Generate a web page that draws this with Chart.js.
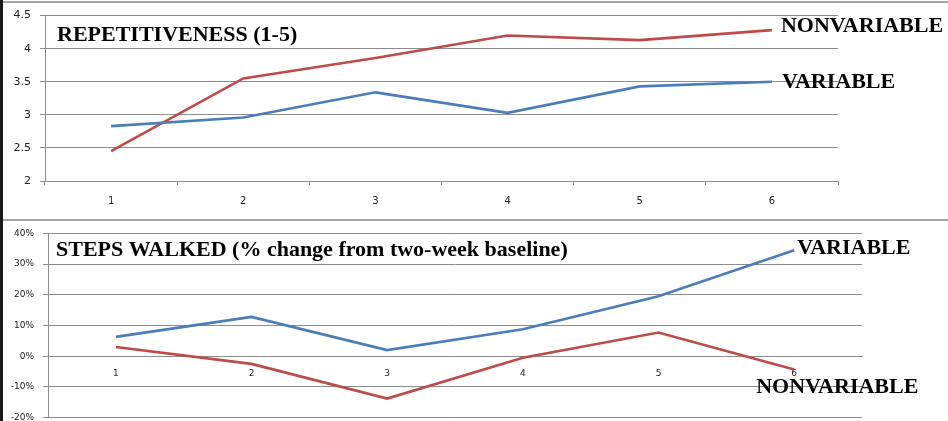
<!DOCTYPE html>
<html>
<head>
<meta charset="utf-8">
<script src="https://cdn.jsdelivr.net/npm/chart.js@4.4.1/dist/chart.umd.min.js"></script>
<style>
  html, body { margin: 0; padding: 0; background: #fff; }
  #wrap { position: relative; width: 948px; height: 421px; overflow: hidden; background: #fff; }
  #topChart { position: absolute; left: 0; top: 0; }
  #bottomChart { position: absolute; left: 0; top: 219px; }
  .rule { position: absolute; background: #a6a6a6; }
  #leftBar { position: absolute; left: 0; top: 0; width: 3px; height: 421px; background: #1a1a1a; }
</style>
</head>
<body>
<div id="wrap">
  <canvas id="topChart" width="948" height="219"></canvas>
  <canvas id="bottomChart" width="948" height="213"></canvas>
  <div class="rule" style="left:0;top:1px;width:948px;height:2px;"></div>
  <div class="rule" style="left:0;top:219px;width:948px;height:2px;"></div>
  <div id="leftBar"></div>
</div>
<script>
// Sessions on the x axis
const sessions = ['1', '2', '3', '4', '5', '6'];

// Repetitiveness rating (1-5 scale)
const repVariable    = [2.83, 2.96, 3.34, 3.03, 3.43, 3.50];
const repNonvariable = [2.45, 3.55, 3.86, 4.20, 4.13, 4.28];

// Steps walked, % change from two-week baseline
const stepsVariable    = [6.3, 12.8, 2.0, 8.8, 19.5, 34.5];
const stepsNonvariable = [3.0, -2.5, -13.8, -0.5, 7.7, -4.3];

const BLUE = '#4a7ebb';
const RED = '#be4b48';
const GRID = '#8c8c8c';
const TICK_FONT = { family: 'DejaVu Sans', size: 10 };
const LABEL_FONT = 'bold 22px "Liberation Serif", "Times New Roman", serif';

// Draws the panel heading and the series names next to their last points
const annotate = {
  id: 'annotate',
  afterDatasetsDraw(chart, args, opts) {
    const ctx = chart.ctx;
    const area = chart.chartArea;
    ctx.save();
    ctx.font = LABEL_FONT;
    ctx.fillStyle = '#000';
    ctx.textAlign = 'left';
    ctx.textBaseline = 'middle';
    ctx.fillText(opts.heading, area.left + opts.headingDx, area.top + opts.headingDy);
    opts.ends.forEach(e => {
      const meta = chart.getDatasetMeta(e.dataset);
      const pt = meta.data[meta.data.length - 1];
      ctx.fillText(e.text, pt.x + e.dx, pt.y + e.dy);
    });
    ctx.restore();
  }
};

function lineSet(label, data, color) {
  return {
    label, data,
    borderColor: color,
    backgroundColor: color,
    borderWidth: 2.6,
    pointRadius: 0,
    tension: 0,
    fill: false
  };
}

Chart.register(annotate);

new Chart(document.getElementById('topChart'), {
  type: 'line',
  data: {
    labels: sessions,
    datasets: [
      lineSet('VARIABLE', repVariable, BLUE),
      lineSet('NONVARIABLE', repNonvariable, RED)
    ]
  },
  options: {
    responsive: false,
    animation: false,
    layout: { padding: { left: 0, right: 110, top: 15, bottom: 0 } },
    plugins: {
      legend: { display: false },
      tooltip: { enabled: false },
      annotate: {
        heading: 'REPETITIVENESS (1-5)',
        headingDx: 12, headingDy: 20,
        ends: [
          { dataset: 1, text: 'NONVARIABLE', dx: 9, dy: -4 },
          { dataset: 0, text: 'VARIABLE', dx: 10, dy: 1 }
        ]
      }
    },
    scales: {
      x: {
        offset: true,
        grid: { display: true, offset: true, drawOnChartArea: false, drawTicks: true, tickLength: 4, color: GRID },
        border: { color: GRID, width: 1 },
        ticks: { font: TICK_FONT, color: '#222', padding: 10, maxRotation: 0 },
        afterFit(scale) { scale.height = 38; }
      },
      y: {
        min: 2, max: 4.5,
        ticks: { stepSize: 0.5, font: { family: 'DejaVu Sans', size: 11 }, color: '#222', padding: 9,
                 callback: v => String(v) },
        grid: { color: GRID, tickLength: 5, lineWidth: 1 },
        border: { color: GRID, width: 1 },
        afterFit(scale) { scale.width = 45; }
      }
    }
  }
});

new Chart(document.getElementById('bottomChart'), {
  type: 'line',
  data: {
    labels: sessions,
    datasets: [
      lineSet('VARIABLE', stepsVariable, BLUE),
      lineSet('NONVARIABLE', stepsNonvariable, RED)
    ]
  },
  options: {
    responsive: false,
    animation: false,
    layout: { padding: { left: 0, right: 86, top: 8, bottom: 4 } },
    plugins: {
      legend: { display: false },
      tooltip: { enabled: false },
      annotate: {
        heading: 'STEPS WALKED (% change from two-week baseline)',
        headingDx: 8, headingDy: 17,
        ends: [
          { dataset: 0, text: 'VARIABLE', dx: 3, dy: -2 },
          { dataset: 1, text: 'NONVARIABLE', dx: -38, dy: 18 }
        ]
      }
    },
    scales: {
      x: {
        position: { y: 0 },
        offset: true,
        grid: { display: false },
        border: { color: GRID, width: 1 },
        ticks: { font: { family: 'DejaVu Sans', size: 9 }, color: '#222', padding: 4, maxRotation: 0 },
        afterFit(scale) { scale.height = 0; }
      },
      y: {
        min: -20, max: 40,
        ticks: { stepSize: 10, font: { family: 'DejaVu Sans', size: 9 }, color: '#222', padding: 9,
                 callback: v => v + '%' },
        grid: { color: GRID, tickLength: 5, lineWidth: 1 },
        border: { color: GRID, width: 1 },
        afterFit(scale) { scale.width = 48; }
      }
    }
  }
});
</script>
</body>
</html>
